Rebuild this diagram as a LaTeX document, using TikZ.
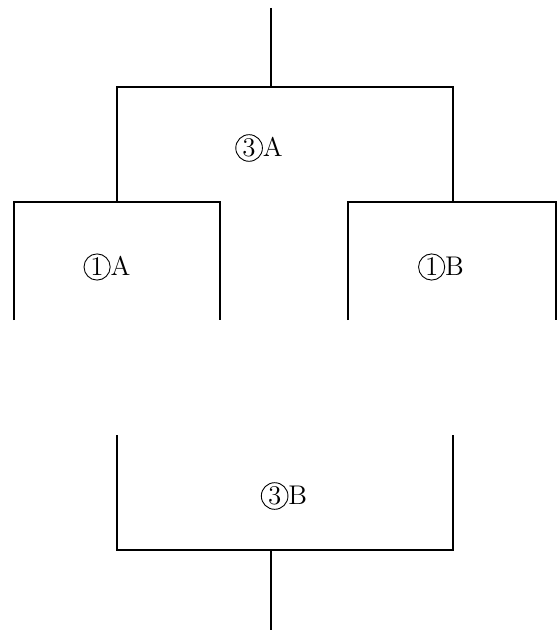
\documentclass[tikz,border=0pt]{standalone}
\newcommand{\cnum}[1]{\tikz[baseline=(c.base)]\node[draw,circle,inner sep=0.7pt,line width=0.45pt](c){#1};}
\begin{document}
\begin{tikzpicture}[x=0.5pt,y=-0.5pt,
  wire/.style={line width=1pt},
  lbl/.style={inner sep=0pt,font=\fontsize{13.5}{16}\selectfont}]
\useasboundingbox (0,0) rectangle (560,630);
% top bracket
\coordinate (t0) at (271,8);
\coordinate (t1) at (271,87);
\coordinate (tl) at (117,87);
\coordinate (tr) at (453,87);
\coordinate (tlb) at (117,202);
\coordinate (trb) at (453,202);
\draw[wire] (t0) -- (t1);
\draw[wire] (tlb) -- (tl) -- (tr) -- (trb);
% left box
\coordinate (la) at (14,320);
\coordinate (lb) at (14,202);
\coordinate (lc) at (220,202);
\coordinate (ld) at (220,320);
\draw[wire] (la) -- (lb) -- (lc) -- (ld);
% right box
\coordinate (ra) at (348,320);
\coordinate (rb) at (348,202);
\coordinate (rc) at (556,202);
\coordinate (rd) at (556,320);
\draw[wire] (ra) -- (rb) -- (rc) -- (rd);
% bottom bracket
\coordinate (ba) at (117,435);
\coordinate (bb) at (117,550);
\coordinate (bc) at (453,550);
\coordinate (bd) at (453,435);
\coordinate (bm) at (271,550);
\coordinate (be) at (271,630);
\draw[wire] (ba) -- (bb) -- (bc) -- (bd);
\draw[wire] (bm) -- (be);
% labels
\node[lbl] (n3a) at (259,148) {\cnum{3}A};
\node[lbl] (n1a) at (107,267) {\cnum{1}A};
\node[lbl] (n1b) at (441,267) {\cnum{1}B};
\node[lbl] (n3b) at (284,496) {\cnum{3}B};
\end{tikzpicture}
\end{document}
